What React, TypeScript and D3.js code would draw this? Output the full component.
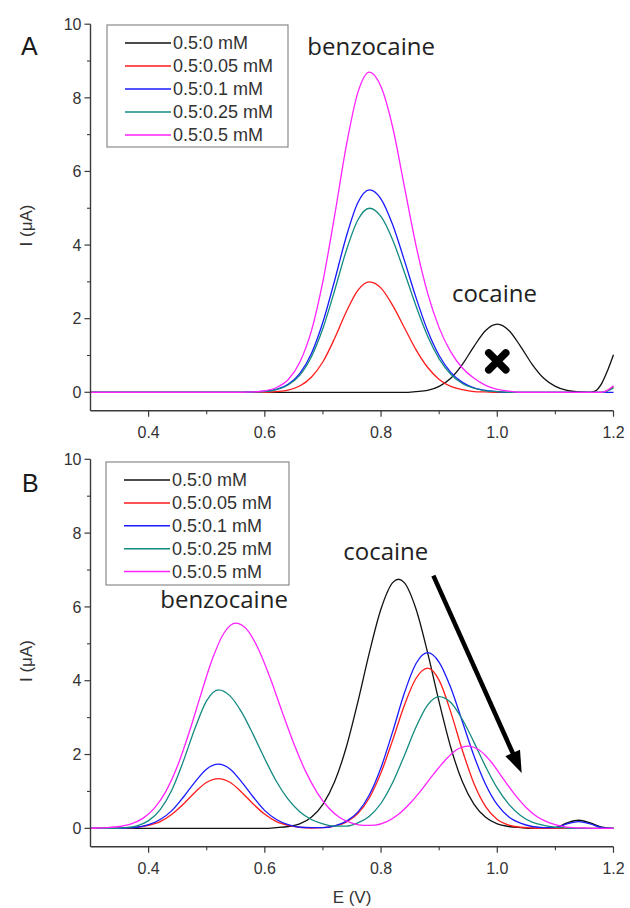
import React from "react";
import * as d3 from "d3";

type Pt = [number, number];

// Legend entries and line colours (benzocaine : cocaine ratio)
const legendLabels = ["0.5:0 mM", "0.5:0.05 mM", "0.5:0.1 mM", "0.5:0.25 mM", "0.5:0.5 mM"];
const seriesColors = ["#111111", "#ff1a1a", "#1a1aff", "#138a80", "#ff22ff"];

// Axis ticks
const xTicks = [0.4, 0.6, 0.8, 1.0, 1.2];
const xMinorTicks = [0.5, 0.7, 0.9, 1.1];
const yTicks = [0, 2, 4, 6, 8, 10];
const yMinorTicks = [1, 3, 5, 7, 9];

// Panel A: benzocaine 0.5 mM with added cocaine
const aBlack: Pt[] = [[0.30,0],[0.84,0],[0.86,0.02],[0.88,0.05],[0.90,0.16],[0.92,0.38],[0.94,0.76],[0.96,1.25],[0.98,1.68],[1.00,1.85],[1.02,1.68],[1.04,1.25],[1.06,0.76],[1.08,0.38],[1.10,0.16],[1.12,0.05],[1.14,0.01],[1.16,0],[1.17,0.05],[1.18,0.25],[1.19,0.6],[1.20,1.02]];
const aRed: Pt[] = [[0.30,0],[0.60,0],[0.62,0.02],[0.64,0.06],[0.66,0.17],[0.68,0.41],[0.70,0.83],[0.72,1.46],[0.74,2.18],[0.76,2.77],[0.78,3.0],[0.80,2.83],[0.82,2.36],[0.84,1.76],[0.86,1.16],[0.88,0.68],[0.90,0.35],[0.92,0.16],[0.94,0.07],[0.96,0.02],[0.98,0.01],[1.00,0],[1.18,0],[1.20,0.15]];
const aBlue: Pt[] = [[0.30,0],[0.56,0],[0.58,0.01],[0.60,0.03],[0.62,0.08],[0.64,0.22],[0.66,0.51],[0.68,1.05],[0.70,1.91],[0.72,3.03],[0.74,4.22],[0.76,5.15],[0.78,5.5],[0.80,5.25],[0.82,4.55],[0.84,3.59],[0.86,2.58],[0.88,1.68],[0.90,1.00],[0.92,0.54],[0.94,0.27],[0.96,0.12],[0.98,0.05],[1.00,0.02],[1.02,0],[1.20,0]];
const aTeal: Pt[] = [[0.30,0],[0.56,0],[0.58,0.01],[0.60,0.02],[0.62,0.07],[0.64,0.20],[0.66,0.46],[0.68,0.96],[0.70,1.74],[0.72,2.76],[0.74,3.84],[0.76,4.68],[0.78,5.0],[0.80,4.77],[0.82,4.14],[0.84,3.27],[0.86,2.35],[0.88,1.53],[0.90,0.91],[0.92,0.49],[0.94,0.24],[0.96,0.11],[0.98,0.04],[1.00,0.02],[1.02,0],[1.18,0],[1.20,0.12]];
const aMagenta: Pt[] = [[0.30,0],[0.56,0],[0.58,0.01],[0.60,0.04],[0.62,0.13],[0.64,0.34],[0.66,0.81],[0.68,1.66],[0.70,3.02],[0.72,4.79],[0.74,6.68],[0.76,8.14],[0.78,8.7],[0.80,8.3],[0.82,7.2],[0.84,5.6],[0.86,4.0],[0.88,2.7],[0.90,1.75],[0.92,1.1],[0.94,0.66],[0.96,0.38],[0.98,0.19],[1.00,0.08],[1.02,0.03],[1.04,0],[1.18,0],[1.20,0.18]];

// Panel B: cocaine 0.5 mM with added benzocaine
const bBlack: Pt[] = [[0.30,0],[0.60,0],[0.62,0.02],[0.64,0.05],[0.66,0.12],[0.68,0.30],[0.70,0.65],[0.72,1.26],[0.74,2.19],[0.76,3.42],[0.78,4.77],[0.80,5.95],[0.82,6.66],[0.83,6.75],[0.84,6.66],[0.86,5.95],[0.88,4.77],[0.90,3.42],[0.92,2.19],[0.94,1.26],[0.96,0.65],[0.98,0.30],[1.00,0.12],[1.02,0.05],[1.04,0.02],[1.06,0],[1.10,0.02],[1.12,0.15],[1.14,0.22],[1.16,0.15],[1.18,0.03],[1.20,0]];
const bRed: Pt[] = [[0.30,0],[0.34,0],[0.36,0.01],[0.38,0.03],[0.40,0.08],[0.42,0.18],[0.44,0.38],[0.46,0.66],[0.48,0.98],[0.50,1.25],[0.52,1.35],[0.54,1.25],[0.56,0.98],[0.58,0.66],[0.60,0.38],[0.62,0.18],[0.64,0.08],[0.66,0.03],[0.68,0.01],[0.70,0.02],[0.72,0.06],[0.74,0.17],[0.76,0.40],[0.78,0.83],[0.80,1.51],[0.82,2.39],[0.84,3.33],[0.86,4.06],[0.88,4.34],[0.90,4.01],[0.92,3.15],[0.94,2.11],[0.96,1.21],[0.98,0.59],[1.00,0.24],[1.02,0.09],[1.04,0.03],[1.06,0.01],[1.08,0],[1.20,0]];
const bBlue: Pt[] = [[0.30,0],[0.34,0],[0.36,0.01],[0.38,0.03],[0.40,0.10],[0.42,0.24],[0.44,0.48],[0.46,0.85],[0.48,1.26],[0.50,1.61],[0.52,1.74],[0.54,1.61],[0.56,1.26],[0.58,0.85],[0.60,0.48],[0.62,0.24],[0.64,0.10],[0.66,0.03],[0.68,0.02],[0.70,0.02],[0.72,0.07],[0.74,0.19],[0.76,0.44],[0.78,0.91],[0.80,1.65],[0.82,2.62],[0.84,3.66],[0.86,4.46],[0.88,4.76],[0.90,4.50],[0.92,3.81],[0.94,2.89],[0.96,1.96],[0.98,1.19],[1.00,0.64],[1.02,0.31],[1.04,0.14],[1.06,0.05],[1.08,0.02],[1.10,0.02],[1.12,0.12],[1.14,0.18],[1.16,0.12],[1.18,0.02],[1.20,0]];
const bTeal: Pt[] = [[0.30,0],[0.34,0],[0.36,0.02],[0.38,0.07],[0.40,0.21],[0.42,0.51],[0.44,1.04],[0.46,1.83],[0.48,2.72],[0.50,3.46],[0.52,3.75],[0.54,3.59],[0.56,3.15],[0.58,2.54],[0.60,1.88],[0.62,1.27],[0.64,0.79],[0.66,0.45],[0.68,0.24],[0.70,0.12],[0.72,0.06],[0.74,0.06],[0.76,0.15],[0.78,0.33],[0.80,0.68],[0.82,1.24],[0.84,1.97],[0.86,2.74],[0.88,3.34],[0.90,3.57],[0.92,3.41],[0.94,2.95],[0.96,2.33],[0.98,1.67],[1.00,1.09],[1.02,0.65],[1.04,0.35],[1.06,0.17],[1.08,0.08],[1.10,0.03],[1.12,0.01],[1.14,0],[1.20,0]];
const bMagenta: Pt[] = [[0.30,0],[0.31,0.01],[0.33,0.02],[0.35,0.05],[0.37,0.12],[0.39,0.27],[0.41,0.55],[0.43,1.01],[0.45,1.70],[0.47,2.61],[0.49,3.63],[0.51,4.60],[0.53,5.30],[0.55,5.56],[0.57,5.37],[0.59,4.82],[0.61,4.04],[0.63,3.15],[0.65,2.29],[0.67,1.55],[0.69,0.97],[0.71,0.55],[0.73,0.28],[0.75,0.14],[0.77,0.08],[0.79,0.09],[0.81,0.18],[0.83,0.38],[0.85,0.68],[0.87,1.05],[0.89,1.46],[0.91,1.84],[0.93,2.13],[0.95,2.23],[0.97,2.11],[0.99,1.79],[1.01,1.35],[1.03,0.92],[1.05,0.56],[1.07,0.30],[1.09,0.15],[1.11,0.06],[1.13,0.02],[1.15,0.01],[1.17,0],[1.20,0]];

const panelASeries = [aBlack, aRed, aBlue, aTeal, aMagenta];
const panelBSeries = [bBlack, bRed, bBlue, bTeal, bMagenta];

const xDomain: [number, number] = [0.3, 1.2];
const yDomain: [number, number] = [-0.5, 10];

const tickFont = "'Liberation Sans', Arial, sans-serif";
const noteFont = "'Open Sans', 'Noto Sans', sans-serif";

type Note = { text: string; e: number; i: number };

type PanelProps = {
  letter: string;
  letterPos: [number, number];
  top: number; // pixel of y = 10
  bottom: number; // pixel of y = -0.5
  series: Pt[][];
  legend: { x: number; y: number; w: number; h: number; row0: number; step: number };
  notes: Note[];
  children?: (x: d3.ScaleLinear<number, number>, y: d3.ScaleLinear<number, number>) => React.ReactNode;
};

function Panel({ letter, letterPos, top, bottom, series, legend, notes, children }: PanelProps) {
  const x = d3.scaleLinear().domain(xDomain).range([90.5, 613.5]);
  const y = d3.scaleLinear().domain(yDomain).range([bottom, top]);
  const line = d3
    .line<Pt>()
    .x((d) => x(d[0]))
    .y((d) => y(d[1]))
    .curve(d3.curveMonotoneX);
  const axisColor = "#3a3a3a";
  const x0 = x(xDomain[0]);
  const yb = y(yDomain[0]);
  const yLabelCenter = (top + bottom) / 2 + 8;

  return (
    <g>
      <text x={letterPos[0]} y={letterPos[1]} fontFamily={tickFont} fontSize={25} fill="#1a1a1a">
        {letter}
      </text>

      {/* curves */}
      {series.map((s, k) => (
        <path key={k} d={line(s) ?? ""} fill="none" stroke={seriesColors[k]} strokeWidth={1.3} strokeLinejoin="round" />
      ))}

      {/* axes */}
      <line x1={x0} x2={x0} y1={y(10)} y2={yb} stroke={axisColor} strokeWidth={1.4} />
      <line x1={x0} x2={x(1.2)} y1={yb} y2={yb} stroke={axisColor} strokeWidth={1.4} />
      {yTicks.map((t) => (
        <g key={"yt" + t}>
          <line x1={x0 - 6} x2={x0} y1={y(t)} y2={y(t)} stroke={axisColor} strokeWidth={1.2} />
          <text x={x0 - 9} y={y(t)} dy="0.36em" textAnchor="end" fontFamily={tickFont} fontSize={16} fill="#333">
            {t}
          </text>
        </g>
      ))}
      {yMinorTicks.map((t) => (
        <line key={"ym" + t} x1={x0 - 3.5} x2={x0} y1={y(t)} y2={y(t)} stroke={axisColor} strokeWidth={1.1} />
      ))}
      {xTicks.map((t) => (
        <g key={"xt" + t}>
          <line x1={x(t)} x2={x(t)} y1={yb} y2={yb + 6} stroke={axisColor} strokeWidth={1.2} />
          <text x={x(t)} y={yb + 27} textAnchor="middle" fontFamily={tickFont} fontSize={16} fill="#333">
            {d3.format(".1f")(t)}
          </text>
        </g>
      ))}
      {xMinorTicks.map((t) => (
        <line key={"xm" + t} x1={x(t)} x2={x(t)} y1={yb} y2={yb + 3.5} stroke={axisColor} strokeWidth={1.1} />
      ))}
      <text
        transform={`translate(26,${yLabelCenter}) rotate(-90)`}
        dy="0.36em"
        textAnchor="middle"
        fontFamily={tickFont}
        fontSize={17}
        fill="#333"
      >
        I (μA)
      </text>

      {/* legend */}
      <rect x={legend.x} y={legend.y} width={legend.w} height={legend.h} fill="none" stroke="#8a8a8a" strokeWidth={1.2} />
      {legendLabels.map((lab, k) => {
        const ry = legend.row0 + k * legend.step;
        return (
          <g key={lab}>
            <line x1={legend.x + 18} x2={legend.x + 64} y1={ry} y2={ry} stroke={seriesColors[k]} strokeWidth={1.5} />
            <text x={legend.x + 66} y={ry} dy="0.36em" fontFamily={tickFont} fontSize={18} fill="#333">
              {lab}
            </text>
          </g>
        );
      })}

      {/* compound labels */}
      {notes.map((n) => (
        <text key={n.text} x={x(n.e)} y={y(n.i)} fontFamily={noteFont} fontSize={24} fill="#222">
          {n.text}
        </text>
      ))}

      {children ? children(x, y) : null}
    </g>
  );
}

// Annotation anchors in data units (E, I)
const crossAt: Pt = [1.0, 0.84];
const arrowFrom: Pt = [0.89, 6.85];
const arrowTo: Pt = [1.042, 1.5];

export default function App() {
  return (
    <svg width={630} height={908} style={{ position: "absolute", left: 0, top: 0, background: "#fff" }}>
      <rect width={630} height={908} fill="#fff" />
      <Panel
        letter="A"
        letterPos={[21, 55]}
        top={24.2}
        bottom={410.7}
        series={panelASeries}
        legend={{ x: 107, y: 25, w: 181, h: 122, row0: 43, step: 23 }}
        notes={[
          { text: "benzocaine", e: 0.673, i: 9.15 },
          { text: "cocaine", e: 0.922, i: 2.45 },
        ]}
      >
        {(x, y) => {
          const cx = x(crossAt[0]);
          const cy = y(crossAt[1]);
          const r = 8.5;
          return (
            <g stroke="#000" strokeWidth={7.5} strokeLinecap="round">
              <line x1={cx - r} y1={cy - r} x2={cx + r} y2={cy + r} />
              <line x1={cx - r} y1={cy + r} x2={cx + r} y2={cy - r} />
            </g>
          );
        }}
      </Panel>
      <Panel
        letter="B"
        letterPos={[22, 492]}
        top={459.3}
        bottom={846.8}
        series={panelBSeries}
        legend={{ x: 106, y: 462, w: 183, h: 123, row0: 480, step: 22.9 }}
        notes={[
          { text: "benzocaine", e: 0.42, i: 5.97 },
          { text: "cocaine", e: 0.735, i: 7.27 },
        ]}
      >
        {(x, y) => {
          const x1 = x(arrowFrom[0]);
          const y1 = y(arrowFrom[1]);
          const x2 = x(arrowTo[0]);
          const y2 = y(arrowTo[1]);
          const len = Math.hypot(x2 - x1, y2 - y1);
          const ux = (x2 - x1) / len;
          const uy = (y2 - y1) / len;
          const head = 22;
          const half = 8;
          const bx = x2 - ux * head;
          const by = y2 - uy * head;
          const pts = [
            [x2, y2],
            [bx - uy * half, by + ux * half],
            [bx + uy * half, by - ux * half],
          ];
          return (
            <g>
              <line x1={x1} y1={y1} x2={bx + ux * 2} y2={by + uy * 2} stroke="#000" strokeWidth={4.5} />
              <polygon points={pts.map((p) => p.join(",")).join(" ")} fill="#000" />
            </g>
          );
        }}
      </Panel>
      <text x={352} y={903} textAnchor="middle" fontFamily={tickFont} fontSize={17} fill="#333">
        E (V)
      </text>
    </svg>
  );
}
